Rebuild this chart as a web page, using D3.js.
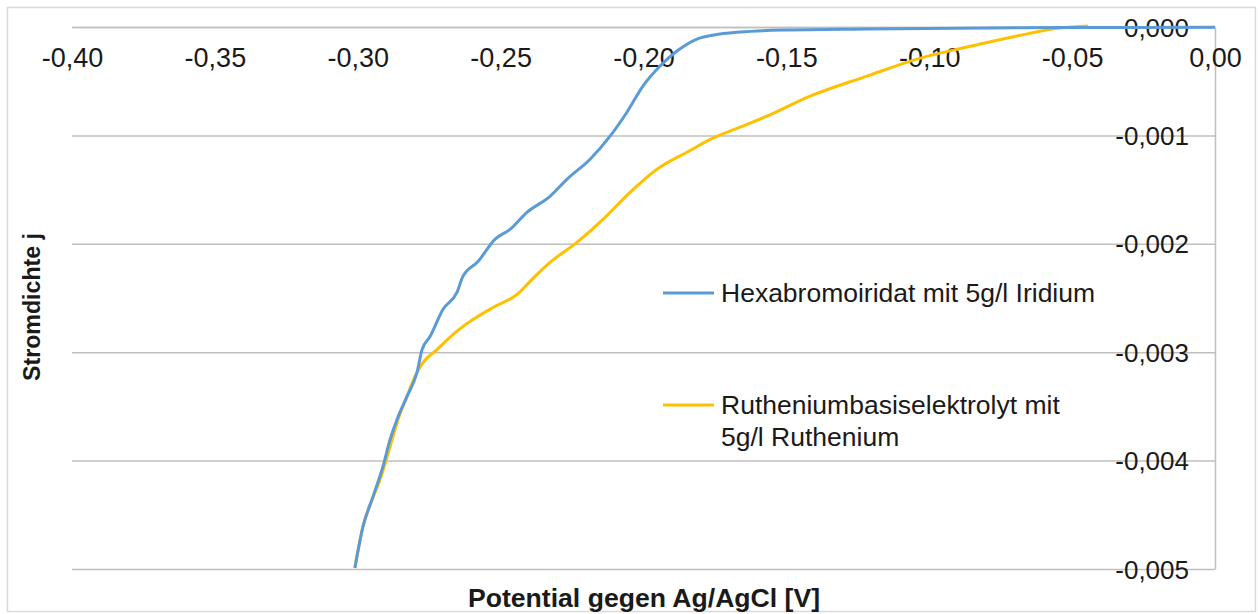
<!DOCTYPE html>
<html>
<head>
<meta charset="utf-8">
<script src="https://cdn.jsdelivr.net/npm/d3@7"></script>
<style>
  body { margin: 0; background: #fff; }
  text { font-family: "Liberation Sans", Arial, sans-serif; fill: #1a1a1a; }
</style>
</head>
<body>
<svg id="chart" width="1258" height="614"></svg>
<script>
// potential [V] and current density j
var iridiumV = [-0.3010, -0.2982, -0.2947, -0.2912, -0.2887, -0.2863, -0.2828, -0.2793, -0.2775, -0.2747,
                -0.2702, -0.2653, -0.2632, -0.2579, -0.2520, -0.2467, -0.2408, -0.2327, -0.2268, -0.2187,
                -0.2117, -0.2058, -0.2002, -0.1942, -0.1883, -0.1813, -0.1732, -0.1662, -0.1512, -0.1218,
                -0.0542, 0.0];
var iridiumJ = [-0.00499, -0.004612, -0.004335, -0.004057, -0.003808, -0.003623, -0.003410, -0.003189, -0.002976, -0.002856,
                -0.002606, -0.002449, -0.002301, -0.002163, -0.001959, -0.001867, -0.001710, -0.001562, -0.001405, -0.001220,
                -0.001007, -0.000786, -0.000545, -0.000360, -0.000222, -0.000111, -0.000065, -0.000046, -0.000028, -0.000018,
                -0.000005, -0.000003];

var rutheniumV = [-0.3010, -0.2982, -0.2950, -0.2922, -0.2887, -0.2859, -0.2828, -0.2800, -0.2772, -0.2723,
                  -0.2667, -0.2597, -0.2527, -0.2443, -0.2380, -0.2327, -0.2233, -0.2142, -0.2047, -0.1953,
                  -0.1848, -0.1757, -0.1662, -0.1568, -0.1417, -0.1218, -0.1043, -0.0868, -0.0693, -0.0542,
                  -0.0444];
var rutheniumJ = [-0.00499, -0.004612, -0.004362, -0.004177, -0.003872, -0.003623, -0.003410, -0.003226, -0.003096, -0.002976,
                  -0.002837, -0.002699, -0.002588, -0.002468, -0.002301, -0.002172, -0.001987, -0.001775, -0.001525, -0.001312,
                  -0.001155, -0.001026, -0.000924, -0.000823, -0.000638, -0.000453, -0.000296, -0.000185, -0.000083, -0.000009,
                  0.000009];

var xTicks = [-0.40, -0.35, -0.30, -0.25, -0.20, -0.15, -0.10, -0.05, 0.00];
var yTicks = [0, -0.001, -0.002, -0.003, -0.004, -0.005];
var seriesNames = [["Hexabromoiridat mit 5g/l Iridium"], ["Rutheniumbasiselektrolyt mit", "5g/l Ruthenium"]];
var seriesColors = ["#5b9bd5", "#ffc000"];

var svg = d3.select("#chart");
var plotL = 72, plotR = 1215, plotT = 27, plotB = 569;

// outer frame
svg.append("rect").attr("x", 7.5).attr("y", 7.5).attr("width", 1248).attr("height", 604)
    .attr("fill", "#fff").attr("stroke", "#d9d9d9").attr("stroke-width", 1.5);

var x = d3.scaleLinear().domain([-0.4, 0]).range([plotL, plotR]);
var y = d3.scaleLinear().domain([-0.005, 0]).range([plotB, plotT]);

// gridlines + right axis line + y labels
var yAxis = svg.append("g").attr("transform", "translate(" + plotR + ",0)")
    .call(d3.axisLeft(y).tickValues(yTicks).tickSize(plotR - plotL).tickSizeOuter(0)
        .tickFormat(function(d) { return d.toFixed(3).replace(".", ","); }));
yAxis.selectAll("line, path").attr("stroke", "#bfbfbf").attr("stroke-width", 1.5);
yAxis.selectAll("text").attr("x", -26).attr("dy", "0.35em")
    .style("font-size", "26px").style("font-family", "Liberation Sans, Arial, sans-serif")
    .attr("fill", "#1a1a1a");

// x labels below the zero line
var xAxis = svg.append("g").attr("transform", "translate(0," + plotT + ")")
    .call(d3.axisBottom(x).tickValues(xTicks).tickSize(0)
        .tickFormat(function(d) { return d.toFixed(2).replace(".", ","); }));
xAxis.select(".domain").attr("stroke", "#bfbfbf").attr("stroke-width", 1.5);
xAxis.selectAll("text").attr("y", 31).attr("dy", "0.35em")
    .style("font-size", "27px").style("font-family", "Liberation Sans, Arial, sans-serif")
    .attr("fill", "#1a1a1a");

var line = d3.line()
    .x(function(d) { return x(d[0]); })
    .y(function(d) { return y(d[1]); })
    .curve(d3.curveMonotoneX);

var series = [d3.zip(iridiumV, iridiumJ), d3.zip(rutheniumV, rutheniumJ)];
// draw ruthenium first so iridium sits on top near zero
[1, 0].forEach(function(i) {
    svg.append("path").datum(series[i]).attr("d", line)
        .attr("fill", "none").attr("stroke", seriesColors[i]).attr("stroke-width", 3)
        .attr("stroke-linejoin", "round");
});

// legend
var legendY = [293, 405];
seriesNames.forEach(function(lines, i) {
    svg.append("line").attr("x1", 663).attr("x2", 714)
        .attr("y1", legendY[i]).attr("y2", legendY[i])
        .attr("stroke", seriesColors[i]).attr("stroke-width", 3);
    var t = svg.append("text").attr("x", 721).attr("y", legendY[i])
        .style("font-size", "26.5px");
    lines.forEach(function(s, k) {
        t.append("tspan").attr("x", 721).attr("dy", k === 0 ? "0.35em" : "1.2em").text(s);
    });
});

// axis titles
svg.append("text").attr("x", 644).attr("y", 598).attr("dy", "0.35em")
    .attr("text-anchor", "middle").style("font-size", "25px").style("font-weight", "bold")
    .attr("textLength", 352).attr("lengthAdjust", "spacingAndGlyphs")
    .text("Potential gegen Ag/AgCl [V]");
svg.append("text").attr("transform", "translate(32,307) rotate(-90)").attr("dy", "0.35em")
    .attr("text-anchor", "middle").style("font-size", "24px").style("font-weight", "bold")
    .attr("textLength", 148).attr("lengthAdjust", "spacingAndGlyphs")
    .text("Stromdichte j");
</script>
</body>
</html>
